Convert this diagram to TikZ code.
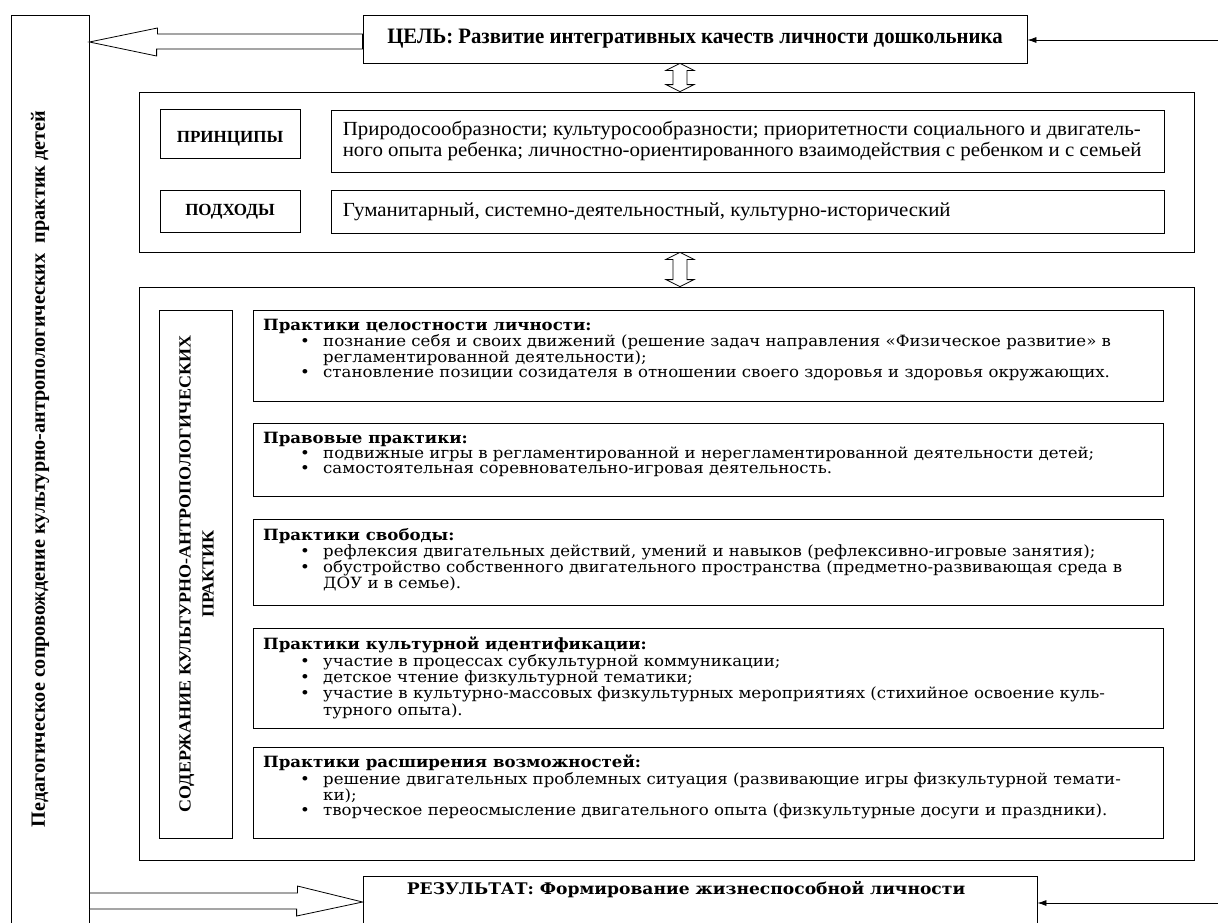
\documentclass[tikz,border=0pt]{standalone}
\usepackage{fontspec}
\setmainfont{Liberation Serif}
\newfontfamily\pracfont{DejaVu Serif}[FakeStretch=1.07]
\newfontfamily\widefont{Liberation Serif}[FakeStretch=1.045]
\newfontfamily\capsfont{Liberation Serif}[FakeStretch=1.06]
\newfontfamily\goalfont{Liberation Serif}[FakeStretch=0.945]
\usetikzlibrary{calc, arrows.meta}

\newcommand{\blt}{\hspace*{37pt}\makebox[23pt][l]{\textbullet}}
\newcommand{\cnt}{\hspace*{60pt}}

\begin{document}
\begin{tikzpicture}[
		x=1pt, y=-1pt,
		box/.style={draw, line width=0.8pt, inner sep=0pt},
		hollow/.style={draw, line width=0.8pt, fill=white},
		arrow/.style={-{Latex[length=9pt,width=6pt]}, line width=0.8pt},
		ptext/.style={anchor=north west, inner sep=0pt, align=left, font=\pracfont\fontsize{15.5}{15}\selectfont}
	]
	\useasboundingbox[fill=white] (0,0) rectangle (1218,922);

	% outer frames
	\node[box, minimum width=78, minimum height=925] (lbox) at (50,477.5) {};
	\node[rotate=90, font=\bfseries\fontsize{20.2}{20}\selectfont] (ltxt) at (40,469)
		{Педагогическое сопровождение культурно-антропологических \ практик детей};

	\node[box, minimum width=664, minimum height=48] (goal) at (695,39)
		{\goalfont\fontsize{22}{22}\selectfont\textbf{ЦЕЛЬ: Развитие интегративных качеств личности дошкольника}};

	\node[box, minimum width=1055, minimum height=160] (frame1) at (666.5,172) {};
	\node[box, minimum width=140, minimum height=49] (princ) at (230,133.5) {};
	\node[font=\bfseries\fontsize{17}{17}\selectfont] (princlbl) at ([yshift=-5]princ.center) {ПРИНЦИПЫ};
	\node[box, minimum width=140, minimum height=42] (appr) at (230,211) {};
	\node[font=\bfseries\fontsize{17}{17}\selectfont] (apprlbl) at ([yshift=-1]appr.center) {ПОДХОДЫ};
	\node[box, minimum width=833, minimum height=62] (princbox) at (747.5,141) {};
	\node[anchor=west, inner sep=0pt, align=left, font=\widefont\fontsize{20}{21}\selectfont] (princtxt) at ([xshift=12]princbox.west)
		{Природосообразности; культуросообразности; приоритетности социального и двигатель-\\
		ного опыта ребенка; личностно-ориентированного взаимодействия с ребенком и с семьей};
	\node[box, minimum width=833, minimum height=43] (apprbox) at (747.5,211.5) {};
	\node[anchor=west, inner sep=0pt, font=\widefont\fontsize{20}{21}\selectfont] (apprtxt) at ([xshift=12]apprbox.west)
		{Гуманитарный, системно-деятельностный, культурно-исторический};

	\node[box, minimum width=1055, minimum height=573] (frame2) at (666.5,573.5) {};
	\node[box, minimum width=73, minimum height=528] (content) at (195.5,574) {};
	\node[rotate=90, align=center, font=\capsfont\bfseries\fontsize{17}{23}\selectfont] (conttxt) at ([xshift=1]content.center)
		{СОДЕРЖАНИЕ КУЛЬТУРНО-АНТРОПОЛОГИЧЕСКИХ\\ПРАКТИК};

	% practices
	\node[box, minimum width=910, minimum height=91, anchor=north west] (p1) at (253,310) {};
	\node[ptext] (p1txt) at ([shift={(10,9)}]p1.north west)
		{\textbf{Практики целостности личности:}\\
		\blt познание себя и своих движений (решение задач направления «Физическое развитие» в\\
		\cnt регламентированной деятельности);\\
		\blt становление позиции созидателя в отношении своего здоровья и здоровья окружающих.};

	\node[box, minimum width=910, minimum height=73, anchor=north west] (p2) at (253,423) {};
	\node[ptext] (p2txt) at ([shift={(10,9)}]p2.north west)
		{\textbf{Правовые практики:}\\
		\blt подвижные игры в регламентированной и нерегламентированной деятельности детей;\\
		\blt самостоятельная соревновательно-игровая деятельность.};

	\node[box, minimum width=910, minimum height=86, anchor=north west] (p3) at (253,519) {};
	\node[ptext] (p3txt) at ([shift={(10,9)}]p3.north west)
		{\textbf{Практики свободы:}\\
		\blt рефлексия двигательных действий, умений и навыков (рефлексивно-игровые занятия);\\
		\blt обустройство собственного двигательного пространства (предметно-развивающая среда в\\
		\cnt ДОУ и в семье).};

	\node[box, minimum width=910, minimum height=100, anchor=north west] (p4) at (253,628) {};
	\node[ptext] (p4txt) at ([shift={(10,9)}]p4.north west)
		{\textbf{Практики культурной идентификации:}\\
		\blt участие в процессах субкультурной коммуникации;\\
		\blt детское чтение физкультурной тематики;\\
		\blt участие в культурно-массовых физкультурных мероприятиях (стихийное освоение куль-\\
		\cnt турного опыта).};

	\node[box, minimum width=910, minimum height=91, anchor=north west] (p5) at (253,747) {};
	\node[ptext] (p5txt) at ([shift={(10,8)}]p5.north west)
		{\textbf{Практики расширения возможностей:}\\
		\blt решение двигательных проблемных ситуация (развивающие игры физкультурной темати-\\
		\cnt ки);\\
		\blt творческое переосмысление двигательного опыта (физкультурные досуги и праздники).};

	% result
	\node[box, minimum width=674, minimum height=64] (result) at (700,908) {};
	\node[font=\pracfont\bfseries\fontsize{16}{16}\selectfont] (restxt) at (686,890)
		{РЕЗУЛЬТАТ: Формирование жизнеспособной личности};

	% hollow arrows
	\draw[hollow] (lbox.east |- 0,42) -- ++(68,-14) -- ++(0,6) -- (goal.west |- 0,34)
		-- (goal.west |- 0,49) -- ++(-206,0) -- ++(0,7) -- cycle;
	\draw[hollow] (lbox.east |- 0,893) -- ++(208,0) -- ++(0,-7) -- (result.west |- 0,902)
		-- ++(-66,14) -- ++(0,-7) -- (lbox.east |- 0,909) -- cycle;

	\draw[hollow] (680,0 |- goal.south) -- ++(14,7) -- ++(-7,0) -- ($(687,0 |- frame1.north)+(0,-7)$)
		-- ++(7,0) -- (680,0 |- frame1.north) -- ++(-14,-7) -- ++(7,0)
		-- ($(673,0 |- goal.south)+(0,7)$) -- ++(-7,0) -- cycle;
	\draw[hollow] (680,0 |- frame1.south) -- ++(14,7) -- ++(-7,0) -- ($(687,0 |- frame2.north)+(0,-7)$)
		-- ++(7,0) -- (680,0 |- frame2.north) -- ++(-14,-7) -- ++(7,0)
		-- ($(673,0 |- frame1.south)+(0,7)$) -- ++(-7,0) -- cycle;

	% incoming arrows
	\coordinate (gin) at (1218,40);
	\coordinate (rin) at (1218,903);
	\draw[arrow] (gin) -- (gin -| goal.east);
	\draw[arrow] (rin) -- (rin -| result.east);
\end{tikzpicture}
\end{document}
